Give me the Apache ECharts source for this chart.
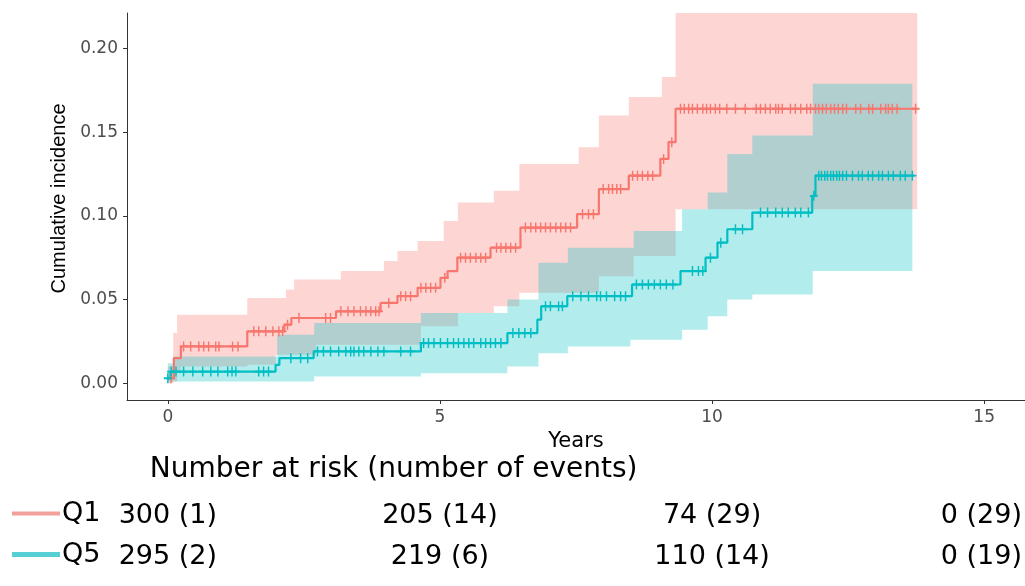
<!DOCTYPE html>
<html>
<head>
<meta charset="utf-8">
<title>Cumulative incidence, Q1 vs Q5</title>
<script src="https://cdn.jsdelivr.net/npm/echarts@6/dist/echarts.min.js"></script>
<style>
  html, body { margin: 0; padding: 0; background: #ffffff; }
  #chart { width: 1025px; height: 586px; }
</style>
</head>
<body>
<div id="chart"></div>
<script>
// Cumulative incidence step estimates (time in years)
const q1Time = [0, 0.11, 0.24, 1.46, 2.14, 2.27, 3.09, 3.91, 4.22, 4.59, 5.01, 5.14, 5.32, 5.93, 6.48, 7.52, 7.92, 8.47, 9.05, 9.20, 9.33, 13.77];
const q1Incidence = [0.003, 0.015, 0.022, 0.031, 0.035, 0.039, 0.043, 0.048, 0.052, 0.057, 0.063, 0.067, 0.075, 0.081, 0.093, 0.101, 0.116, 0.124, 0.134, 0.144, 0.164, 0.164];

const q5Time = [0, 0.05, 1.98, 2.05, 2.68, 4.65, 6.24, 6.79, 6.86, 7.34, 8.53, 9.42, 9.88, 10.10, 10.28, 10.74, 11.84, 11.90, 13.71];
const q5Incidence = [0.003, 0.007, 0.011, 0.015, 0.019, 0.024, 0.030, 0.038, 0.046, 0.052, 0.059, 0.067, 0.075, 0.084, 0.092, 0.102, 0.112, 0.124, 0.124];

// 95% confidence limits
const q1BandTime  = [0, 0.10, 0.17, 0.24, 1.46, 1.98, 2.17, 2.32, 2.72, 3.18, 3.97, 4.22, 4.59, 4.65, 5.07, 5.33, 5.99, 6.46, 7.55, 7.92, 8.47, 8.56, 9.08, 9.33, 13.77];
const q1BandUpper = [0.010, 0.030, 0.041, 0.041, 0.051, 0.051, 0.056, 0.062, 0.062, 0.067, 0.073, 0.079, 0.085, 0.085, 0.097, 0.108, 0.115, 0.131, 0.141, 0.160, 0.171, 0.171, 0.183, 0.240, 0.240];
const q1BandLower = [0.000, 0.001, 0.006, 0.010, 0.011, 0.017, 0.017, 0.017, 0.023, 0.023, 0.023, 0.023, 0.023, 0.034, 0.034, 0.042, 0.046, 0.054, 0.054, 0.064, 0.064, 0.076, 0.076, 0.104, 0.104];

const q5BandTime  = [0, 0.10, 2.01, 2.69, 4.65, 6.24, 6.81, 7.35, 8.50, 8.56, 9.45, 9.92, 10.28, 10.74, 11.85, 13.68];
const q5BandUpper = [0.012, 0.016, 0.029, 0.036, 0.042, 0.050, 0.072, 0.081, 0.081, 0.091, 0.104, 0.114, 0.137, 0.148, 0.179, 0.179];
const q5BandLower = [0.001, 0.001, 0.001, 0.004, 0.006, 0.010, 0.018, 0.022, 0.026, 0.026, 0.032, 0.040, 0.050, 0.053, 0.067, 0.067];

// Censoring times
const q1Censor = [0.06, 0.29, 0.42, 0.57, 0.66, 0.75, 0.88, 0.94, 1.19, 1.29, 1.58, 1.67, 1.80, 1.93, 2.04, 2.11, 2.20, 2.41, 2.90, 2.99,
  3.18, 3.31, 3.42, 3.54, 3.64, 3.73, 3.82, 3.88, 4.06, 4.28, 4.37, 4.46, 4.65, 4.74, 4.83, 4.92, 5.09, 5.38, 5.47, 5.56, 5.66, 5.75, 5.84,
  6.04, 6.12, 6.21, 6.30, 6.39, 6.57, 6.67, 6.76, 6.85, 6.94, 7.03, 7.13, 7.22, 7.31, 7.40, 7.62, 7.73, 7.82, 8.00, 8.10, 8.17, 8.25, 8.32,
  8.54, 8.63, 8.72, 8.82, 8.91, 9.11, 9.26, 9.42, 9.49, 9.57, 9.64, 9.73, 9.83, 9.90, 9.97, 10.06, 10.14, 10.27, 10.43, 10.61, 10.81, 10.89,
  10.98, 11.07, 11.17, 11.22, 11.29, 11.44, 11.53, 11.63, 11.74, 11.81, 11.90, 11.96, 12.03, 12.10, 12.18, 12.25, 12.32, 12.40, 12.47,
  12.64, 12.73, 12.88, 12.95, 13.10, 13.19, 13.24, 13.31, 13.40, 13.74];
const q5Censor = [0.00, 0.06, 0.15, 0.29, 0.46, 0.64, 0.79, 0.92, 1.10, 1.18, 1.25, 1.67, 1.76, 1.85, 2.26, 2.44, 2.57, 2.75, 2.86, 2.99,
  3.14, 3.27, 3.36, 3.42, 3.51, 3.60, 3.73, 3.86, 3.97, 4.28, 4.46, 4.70, 4.79, 4.89, 5.01, 5.14, 5.25, 5.34, 5.44, 5.53, 5.62, 5.75, 5.84,
  5.93, 6.02, 6.12, 6.34, 6.45, 6.56, 6.67, 6.94, 7.03, 7.18, 7.25, 7.44, 7.59, 7.73, 7.88, 7.95, 8.06, 8.21, 8.32, 8.41, 8.61, 8.72, 8.83,
  8.94, 9.05, 9.16, 9.28, 9.64, 9.75, 9.83, 9.97, 10.16, 10.43, 10.56, 10.89, 11.02, 11.17, 11.29, 11.40, 11.53, 11.63, 11.77, 11.87,
  11.96, 12.01, 12.07, 12.12, 12.18, 12.23, 12.29, 12.34, 12.40, 12.47, 12.58, 12.69, 12.76, 12.87, 12.95, 13.06, 13.13, 13.24, 13.33,
  13.46, 13.55, 13.68];

// Axis ticks
const yearTicks = [0, 5, 10, 15];
const incidenceTicks = [0, 0.05, 0.10, 0.15, 0.20];

// Number at risk (number of events), at each year tick
const riskGroups = ['Q1', 'Q5'];
const riskQ1 = ['300 (1)', '205 (14)', '74 (29)', '0 (29)'];
const riskQ5 = ['295 (2)', '219 (6)', '110 (14)', '0 (19)'];

// ---- layout & style ----
const RED = '#F8766D';
const TEAL = '#00BFC4';
const AXIS = '#333333';
const TICK_TEXT = '#4D4D4D';
const PLUS = 'path://M0,4.1H10V5.9H0Z M4.1,0H5.9V10H4.1Z';
const TABLE_FONT = '27px "DejaVu Sans"';
const TITLE_FONT = '28px "DejaVu Sans"';
const riskTitleY = 470;
const riskRowY = [516, 557];
const RIGHT_LIMIT = 1022;

const pairs = (xs, ys) => xs.map((x, i) => [x, ys[i]]);
function stepValue(xs, ys, t) {
  let v = ys[0];
  for (let i = 0; i < xs.length; i++) if (xs[i] <= t) v = ys[i];
  return v;
}

// Confidence ribbon drawn as one stepped polygon in data coordinates
function ribbon(name, xs, lower, upper, color) {
  return {
    type: 'custom', name: name + ' ribbon', silent: true, clip: true, z: 1,
    data: xs.map((x, i) => [x, lower[i], upper[i]]),
    encode: { x: 0, y: [1, 2] },
    renderItem: function (params, api) {
      if (params.dataIndex !== 0) return null;
      const top = [], bottom = [];
      for (let i = 0; i < xs.length; i++) {
        const xNext = i < xs.length - 1 ? xs[i + 1] : xs[i];
        top.push(api.coord([xs[i], upper[i]]), api.coord([xNext, upper[i]]));
        bottom.push(api.coord([xs[i], lower[i]]), api.coord([xNext, lower[i]]));
      }
      return {
        type: 'polygon',
        shape: { points: top.concat(bottom.reverse()) },
        style: { fill: color, opacity: 0.3 }
      };
    }
  };
}

function curve(name, xs, ys, color) {
  return {
    type: 'line', name: name, step: 'end', symbol: 'none', silent: true,
    data: pairs(xs, ys), itemStyle: { color: color },
    lineStyle: { color: color, width: 2.2 }, emphasis: { disabled: true }, z: 3
  };
}

function censorMarks(name, times, xs, ys, color) {
  return {
    type: 'scatter', name: name + ' censored', silent: true,
    data: times.map(t => [t, stepValue(xs, ys, t)]),
    symbol: PLUS, symbolSize: [8, 10],
    itemStyle: { color: color, opacity: 1 }, emphasis: { disabled: true }, z: 4
  };
}

function legendFor(name, color, centerY, thick) {
  return {
    data: [{ name: name, itemStyle: { color: color } }],
    left: 12, top: centerY - 16, icon: 'rect', itemWidth: 48, itemHeight: thick,
    selectedMode: false, padding: 0,
    textStyle: { fontFamily: 'DejaVu Sans', fontSize: 27, color: '#000', padding: [0, 0, 0, -3] }
  };
}

const chart = echarts.init(document.getElementById('chart'), null, { renderer: 'canvas' });
chart.setOption({
  animation: false,
  backgroundColor: '#ffffff',
  grid: { left: 127, right: 0, top: 13, bottom: 186, containLabel: false, outerBoundsMode: 'none' },
  xAxis: {
    type: 'value', min: -0.75, max: 15.75,
    name: 'Years', nameLocation: 'middle', nameGap: 29,
    nameTextStyle: { fontFamily: 'DejaVu Sans', fontSize: 21, color: '#000' },
    axisLine: { show: true, onZero: false, lineStyle: { color: AXIS, width: 1 } },
    axisTick: { show: true, length: 4, customValues: yearTicks, lineStyle: { color: AXIS } },
    axisLabel: { customValues: yearTicks, margin: 9, color: TICK_TEXT, fontFamily: 'DejaVu Sans', fontSize: 17 },
    splitLine: { show: false }
  },
  yAxis: {
    type: 'value', min: -0.0100, max: 0.2212,
    name: 'Cumulative incidence', nameLocation: 'middle', nameGap: 58, nameRotate: 90,
    nameTextStyle: { fontFamily: 'Liberation Sans', fontSize: 20, color: '#000', padding: [0, 0, 0, 16] },
    axisLine: { show: true, onZero: false, lineStyle: { color: AXIS, width: 1 } },
    axisTick: { show: true, length: 4, customValues: incidenceTicks, lineStyle: { color: AXIS } },
    axisLabel: {
      customValues: incidenceTicks, margin: 9, color: TICK_TEXT,
      fontFamily: 'DejaVu Sans', fontSize: 17, formatter: v => v.toFixed(2)
    },
    splitLine: { show: false }
  },
  legend: [
    legendFor(riskGroups[0], '#F2A09B', riskRowY[0], 4),
    legendFor(riskGroups[1], '#55CFD3', riskRowY[1], 5)
  ],
  series: [
    ribbon('Q1', q1BandTime, q1BandLower, q1BandUpper, RED),
    ribbon('Q5', q5BandTime, q5BandLower, q5BandUpper, TEAL),
    curve('Q1', q1Time, q1Incidence, RED),
    curve('Q5', q5Time, q5Incidence, TEAL),
    censorMarks('Q1', q1Censor, q1Time, q1Incidence, RED),
    censorMarks('Q5', q5Censor, q5Time, q5Incidence, TEAL)
  ]
});

// Risk table: each count is centred under its year tick, kept inside the right edge
const measure = document.createElement('canvas').getContext('2d');
measure.font = TABLE_FONT;
const graphics = [{
  type: 'text', x: chart.convertToPixel({ xAxisIndex: 0 }, 0) - 18, y: riskTitleY,
  style: { text: 'Number at risk (number of events)', font: TITLE_FONT, fill: '#000', textVerticalAlign: 'middle' }
}];
[riskQ1, riskQ5].forEach((row, r) => {
  row.forEach((label, c) => {
    let cx = chart.convertToPixel({ xAxisIndex: 0 }, yearTicks[c]);
    const half = measure.measureText(label).width / 2;
    if (cx + half > RIGHT_LIMIT) cx = RIGHT_LIMIT - half;
    graphics.push({
      type: 'text', x: cx, y: riskRowY[r],
      style: { text: label, font: TABLE_FONT, fill: '#000', textAlign: 'center', textVerticalAlign: 'middle' }
    });
  });
});
chart.setOption({ graphic: graphics });
</script>
</body>
</html>
